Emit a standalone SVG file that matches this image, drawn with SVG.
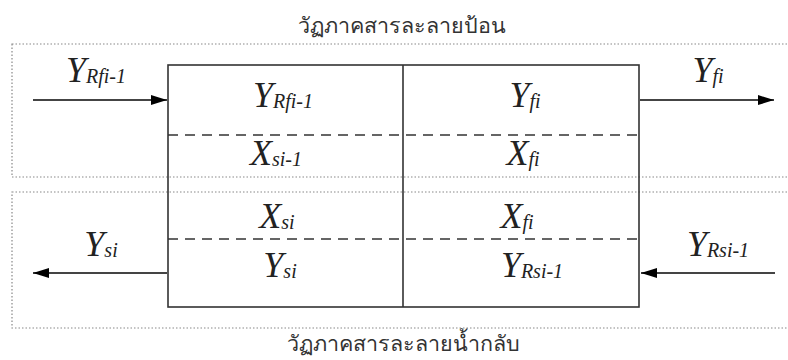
<svg xmlns="http://www.w3.org/2000/svg" width="788" height="360" viewBox="0 0 788 360">
<defs>
<marker id="ah" viewBox="0 0 16 10" refX="16" refY="5" markerWidth="16" markerHeight="10" markerUnits="userSpaceOnUse" orient="auto">
<path d="M0,0 L16,5 L0,10 Z" fill="#000"/>
</marker>
</defs>
<g fill="none" stroke="#888" stroke-width="1.2" stroke-dasharray="1.5 2">
<rect x="12" y="44" width="790" height="133"/>
<rect x="12" y="192" width="790" height="136"/>
</g>
<text x="402" y="33" font-family="Noto Sans" font-size="21.5" fill="#333" text-anchor="middle">วัฏภาคสารละลายป้อน</text>
<text x="403" y="351" font-family="Noto Sans" font-size="21.5" fill="#333" text-anchor="middle">วัฏภาคสารละลายน้ำกลับ</text>
<g id="box" fill="none" stroke="#333" stroke-width="1.6">
<rect x="168" y="65" width="471" height="242"/>
<line x1="403" y1="65" x2="403" y2="307"/>
<line x1="168" y1="135" x2="638" y2="135" stroke-dasharray="10 7"/>
<line x1="168" y1="239" x2="638" y2="239" stroke-dasharray="10 7"/>
</g>
<g id="cells" fill="#222" font-family="Times New Roman, serif" font-style="italic" font-size="36" text-anchor="middle">
<text x="283" y="107">Y<tspan font-size="20" dy="1">Rfi-1</tspan></text>
<text x="276" y="165">X<tspan font-size="20" dy="1">si-1</tspan></text>
<text x="525" y="107">Y<tspan font-size="20" dy="1">fi</tspan></text>
<text x="523" y="165">X<tspan font-size="20" dy="1">fi</tspan></text>
<text x="277" y="228">X<tspan font-size="20" dy="1">si</tspan></text>
<text x="280" y="277">Y<tspan font-size="20" dy="1">si</tspan></text>
<text x="517" y="228">X<tspan font-size="20" dy="1">fi</tspan></text>
<text x="532" y="277">Y<tspan font-size="20" dy="1">Rsi-1</tspan></text>
</g>
<g id="connectors" fill="none" stroke="#444" stroke-width="2.2" marker-end="url(#ah)">
<line x1="33" y1="100" x2="167" y2="100"/>
<line x1="640" y1="100" x2="774" y2="100"/>
<line x1="167" y1="273" x2="33" y2="273"/>
<line x1="775" y1="273" x2="641" y2="273"/>
</g>
<g id="labels" fill="#222" font-family="Times New Roman, serif" font-style="italic" font-size="36" text-anchor="middle">
<text x="96" y="82">Y<tspan font-size="20" dy="1">Rfi-1</tspan></text>
<text x="708" y="82">Y<tspan font-size="20" dy="1">fi</tspan></text>
<text x="101" y="256">Y<tspan font-size="20" dy="1">si</tspan></text>
<text x="718" y="256">Y<tspan font-size="20" dy="1">Rsi-1</tspan></text>
</g>
</svg>
